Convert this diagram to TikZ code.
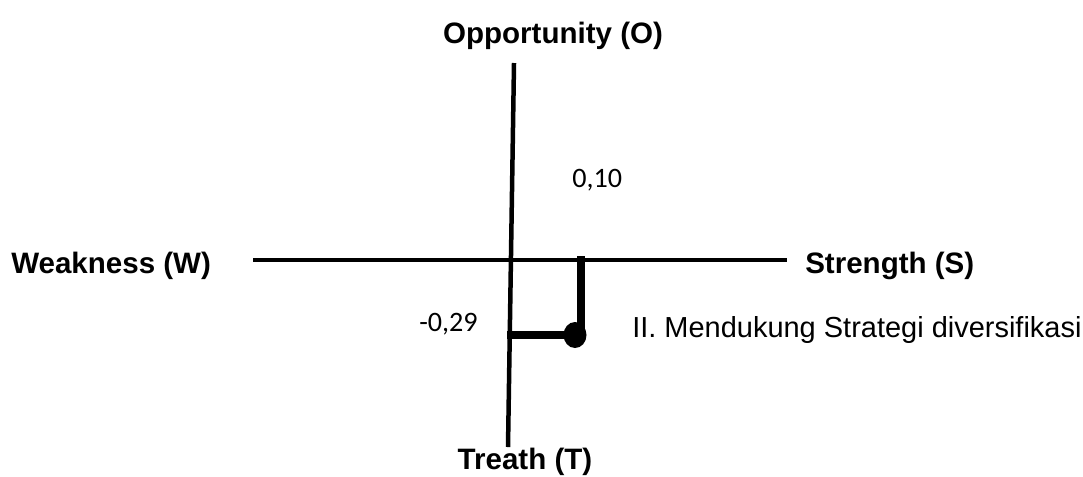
\documentclass[tikz,border=0pt]{standalone}
\usepackage{fontspec}
\setmainfont{Liberation Sans}
\newfontfamily\numfont{Carlito}
\usetikzlibrary{positioning}

\begin{document}
\begin{tikzpicture}[x=0.025cm,y=-0.025cm,
    axis/.style={line width=3.2pt},
    mark line/.style={line width=5pt},
    head/.style={inner sep=0pt,font=\fontsize{21}{25}\selectfont\bfseries},
    val/.style={inner sep=0pt,font=\fontsize{20}{24}\selectfont\numfont}]
            \useasboundingbox (0,0) rectangle (1083,476);
            % Axis ends
            \coordinate (otop) at (514,63);
            \coordinate (tbot) at (508,447);
            \coordinate (wend) at (253,260);
            \coordinate (send) at (787,260);
            % Labels of the axes
            \node[head,anchor=base] (opp) at (553,43) {Opportunity (O)};
            \node[head,anchor=base] (tre) at (525,469) {Treath (T)};
            \node[head,anchor=base west] (wea) at (11,273) {Weakness (W)};
            \node[head,anchor=base west] (str) at (805,273) {Strength (S)};
            % Scores
            \node[val,anchor=base west] (xval) at (572,187) {0,10};
            \node[val,anchor=base east] (yval) at (478,331) {-0,29};
            \node[inner sep=0pt,anchor=base west,font=\fontsize{20.6}{24}\selectfont] (quad) at (632,337) {II. Mendukung Strategi diversifikasi};

            % Axes
            \draw[axis] (otop) -- (tbot);
            \draw[axis] (wend) -- (send);

            % Position point
            \coordinate (mx0) at (581,256);
            \coordinate (mx1) at (581,330);
            \coordinate (my0) at (507,335);
            \coordinate (pt) at (575,335);
            \draw[mark line] (mx0) -- (mx1);
            \draw[mark line] (my0) -- (pt);
            \fill (pt) ellipse [x radius=11.5, y radius=13];
        \end{tikzpicture}
\end{document}
